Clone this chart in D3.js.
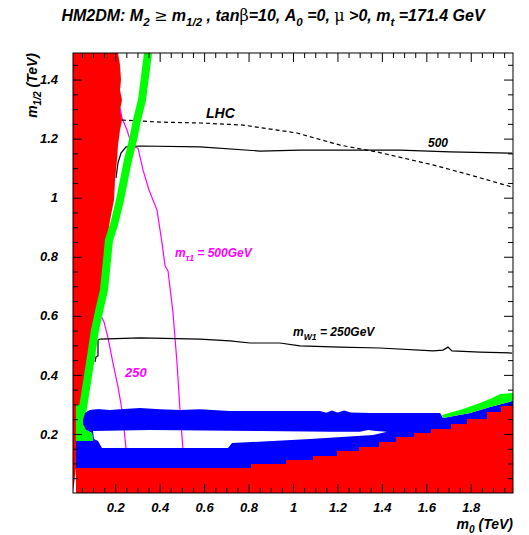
<!DOCTYPE html>
<html>
<head>
<meta charset="utf-8">
<script src="https://cdn.jsdelivr.net/npm/d3@7"></script>
<style>
body { margin: 0; background: #fff; }
text { font-family: "Liberation Sans", Arial, sans-serif; font-weight: bold; font-style: italic; }
</style>
</head>
<body>
<div id="chart"></div>
<script>
// axis ticks (TeV)
var xTicks = [0.2, 0.4, 0.6, 0.8, 1, 1.2, 1.4, 1.6, 1.8];
var yTicks = [0.2, 0.4, 0.6, 0.8, 1, 1.2, 1.4];

// excluded region (red): left edge [m0, m1/2] top -> bottom
var redEdge = [
	[0.2125, 1.49], [0.2215, 1.449], [0.226, 1.399], [0.2215, 1.365], [0.2305, 1.331],
	[0.2215, 1.297], [0.2305, 1.263], [0.2215, 1.229], [0.2125, 1.178], [0.208, 1.128],
	[0.199, 1.06], [0.1945, 0.992], [0.1765, 0.924], [0.163, 0.857], [0.1495, 0.789],
	[0.1405, 0.687], [0.1225, 0.61], [0.109, 0.535], [0.0955, 0.44], [0.064, 0.325],
	[0.0325, 0.247], [0.0235, 0.196], [0.0235, 0.085]
];
// red floor (stau LSP), steps [m0 start, m1/2 level]
var redFloor = [
	[0.0235, 0.085], [0.811, 0.098], [0.969, 0.112], [1.09, 0.125], [1.198, 0.142],
	[1.297, 0.156], [1.387, 0.173], [1.464, 0.19], [1.545, 0.203], [1.621, 0.217],
	[1.711, 0.234], [1.783, 0.251], [1.873, 0.274], [1.936, 0.295], [1.99, 0.295]
];

// WMAP allowed band (green)
var greenBand = [
	[0.3475, 1.49], [0.3205, 1.331], [0.298, 1.263], [0.28, 1.195], [0.2575, 1.128],
	[0.2395, 1.06], [0.2215, 0.992], [0.1945, 0.908], [0.172, 0.857], [0.163, 0.789],
	[0.1495, 0.687], [0.1315, 0.63], [0.109, 0.552], [0.0865, 0.44], [0.064, 0.332],
	[0.046, 0.247]
];
var greenBlob = [
	[0.0235, 0.298], [0.0595, 0.298], [0.055, 0.247], [0.0685, 0.213], [0.0955, 0.203],
	[0.1, 0.176], [0.0235, 0.176]
];
var greenStrip = [
	[1.671, 0.264], [1.761, 0.284], [1.842, 0.305], [1.896, 0.322], [1.932, 0.335],
	[1.99, 0.339], [1.99, 0.312], [1.887, 0.291], [1.797, 0.271], [1.675, 0.254]
];

// blue region: outline and the white gap inside it
var blueOuter = [
	[0.055, 0.247], [0.064, 0.271], [0.0865, 0.281], [0.1315, 0.284], [0.1765, 0.281],
	[0.2215, 0.284], [0.3115, 0.288], [0.4015, 0.284], [0.4915, 0.281], [0.5815, 0.284],
	[0.7165, 0.278], [1.1215, 0.278], [1.15, 0.272], [1.175, 0.279], [1.2, 0.273],
	[1.23, 0.279], [1.26, 0.273], [1.347, 0.271], [1.662, 0.271], [1.675, 0.254],
	[1.797, 0.271], [1.887, 0.291], [1.99, 0.312], [1.99, 0], [0.0235, 0],
	[0.0235, 0.176], [0.1, 0.176], [0.0955, 0.203], [0.0685, 0.213], [0.055, 0.234]
];
var blueGap = [
	[0.1, 0.21], [0.3565, 0.213], [0.8515, 0.21], [1.1665, 0.207], [1.3015, 0.207],
	[1.3375, 0.213], [1.3735, 0.21], [1.423, 0.207], [1.36, 0.196], [1.0765, 0.183],
	[0.7255, 0.169], [0.7075, 0.152], [0.1405, 0.152], [0.1225, 0.176], [0.1045, 0.183]
];

// contours
var lhcLine = [
	[0.2305, 1.263], [0.4015, 1.256], [0.5815, 1.253], [0.775, 1.246], [1.018, 1.219],
	[1.212, 1.178], [1.378, 1.155], [1.63, 1.111], [1.797, 1.077], [1.986, 1.036]
];
var line500 = [
	[0.2035, 1.067], [0.2125, 1.118], [0.226, 1.151], [0.2485, 1.172], [0.3115, 1.175],
	[0.5815, 1.172], [0.8515, 1.158], [1.0315, 1.161], [1.4815, 1.161], [1.7065, 1.155],
	[1.986, 1.151]
];
var lineW250 = [
	[0.109, 0.444], [0.1135, 0.461], [0.1225, 0.464], [0.1225, 0.518], [0.1315, 0.521],
	[0.3115, 0.525], [0.5815, 0.521], [0.7165, 0.515], [0.8065, 0.508], [0.9415, 0.508],
	[1.0315, 0.498], [1.2115, 0.494], [1.3915, 0.491], [1.63, 0.481], [1.675, 0.484],
	[1.6975, 0.494], [1.7155, 0.481], [1.8415, 0.477], [1.986, 0.474]
];
var stau500 = [
	[0.2215, 1.304], [0.2305, 1.27], [0.253, 1.229], [0.2755, 1.175], [0.3025, 1.168],
	[0.325, 1.094], [0.352, 1.026], [0.388, 0.958], [0.4105, 0.847], [0.424, 0.769],
	[0.4375, 0.752], [0.46, 0.61], [0.478, 0.44], [0.4915, 0.281], [0.505, 0.146],
	[0.5095, 0.085]
];
var stau250 = [
	[0.136, 0.599], [0.1495, 0.579], [0.1675, 0.525], [0.19, 0.44], [0.2125, 0.359],
	[0.2305, 0.281], [0.2485, 0.152], [0.253, 0.085]
];

var W = 529, H = 535;
var padL = 73, padR = 513, padT = 53, padB = 493;

var svg = d3.select('#chart')
	.append('svg')
	.attr('width', W)
	.attr('height', H);

var x = d3.scaleLinear().domain([0.01, 1.99]).range([padL, padR]);
var y = d3.scaleLinear().domain([0, 1.49]).range([padB, padT]);

svg.append('clipPath').attr('id', 'clip')
	.append('rect')
	.attr('x', padL).attr('y', padT)
	.attr('width', padR - padL).attr('height', padB - padT);

var plot = svg.append('g').attr('clip-path', 'url(#clip)');

var line = d3.line().x(function (d) { return x(d[0]); }).y(function (d) { return y(d[1]); });

// contours first, filled regions cover them
plot.append('path').attr('d', line(stau500)).attr('fill', 'none').attr('stroke', '#ff00ff').attr('stroke-width', 1.2);
plot.append('path').attr('d', line(stau250)).attr('fill', 'none').attr('stroke', '#ff00ff').attr('stroke-width', 1.2);
plot.append('path').attr('d', line(line500)).attr('fill', 'none').attr('stroke', '#000').attr('stroke-width', 1.2);
plot.append('path').attr('d', line(lineW250)).attr('fill', 'none').attr('stroke', '#000').attr('stroke-width', 1.2);
plot.append('path').attr('d', line(lhcLine)).attr('fill', 'none').attr('stroke', '#000')
	.attr('stroke-width', 1.2).attr('stroke-dasharray', '4,3');

plot.append('path')
	.attr('d', line(blueOuter) + 'Z' + line(blueGap) + 'Z')
	.attr('fill', '#0000ff')
	.attr('fill-rule', 'evenodd');

var xd = x.domain(), yd = y.domain();
plot.append('path')
	.attr('d', line(redEdge.concat([[xd[0], 0], [xd[0], yd[1]]])) + 'Z')
	.attr('fill', '#ff0000');
plot.append('path')
	.attr('d', d3.area()
		.x(function (d) { return x(d[0]); })
		.y0(y(0))
		.y1(function (d) { return y(d[1]); })
		.curve(d3.curveStepAfter)(redFloor))
	.attr('fill', '#ff0000');

plot.append('path').attr('d', line(greenBand)).attr('fill', 'none').attr('stroke', '#00ff00')
	.attr('stroke-width', 8).attr('stroke-linejoin', 'round');
plot.append('path').attr('d', line(greenBlob) + 'Z').attr('fill', '#00ff00');
plot.append('path').attr('d', line(greenStrip) + 'Z').attr('fill', '#00ff00');

// the blue tongue sits over the green blob
plot.append('path')
	.attr('d', line(blueOuter.slice(0, 4).concat([[0.1315, 0.213], [0.0685, 0.213], [0.055, 0.234]])) + 'Z')
	.attr('fill', '#0000ff');

// frame and ticks
var minorX = d3.range(1, 40).filter(function (i) { return i % 4; }).map(function (i) { return i / 20; });
var minorY = d3.range(1, 30).filter(function (i) { return i % 4; }).map(function (i) { return i / 20; });
var fmt = d3.format('~g');

function axisPair(axisFn, scale, major, minor, tr, labels, pad) {
	var g = svg.append('g').attr('transform', tr);
	g.call(axisFn(scale).tickValues(major).tickSize(-9).tickPadding(pad)
		.tickFormat(labels ? fmt : ''));
	g.append('g').call(axisFn(scale).tickValues(minor).tickSize(-5).tickFormat(''));
	g.selectAll('.domain').remove();
	g.attr('font-size', 13).attr('font-family', null);
	g.selectAll('text').attr('fill', '#000');
	return g;
}
axisPair(d3.axisBottom, x, xTicks, minorX, 'translate(0,' + padB + ')', true, 10);
axisPair(d3.axisTop, x, xTicks, minorX, 'translate(0,' + padT + ')', false, 3);
axisPair(d3.axisLeft, y, yTicks, minorY, 'translate(' + padL + ',0)', true, 15);
axisPair(d3.axisRight, y, yTicks, minorY, 'translate(' + padR + ',0)', false, 3);

svg.append('rect')
	.attr('x', padL).attr('y', padT)
	.attr('width', padR - padL).attr('height', padB - padT)
	.attr('fill', 'none').attr('stroke', '#000').attr('stroke-width', 1);

// rich text with subscripts and symbol glyphs
function rich(parent, segs, size, color) {
	var t = parent.append('text').attr('font-size', size).attr('fill', color || '#000');
	var shift = 0;
	segs.forEach(function (s) {
		var sp = t.append('tspan').text(s.t);
		var target = s.sub ? Math.round(size * 0.3) : 0;
		if (target !== shift) { sp.attr('dy', target - shift); shift = target; }
		if (s.sub) sp.attr('font-size', size * 0.72);
		if (s.sym) sp.attr('font-family', '"DejaVu Serif", serif').attr('font-style', 'normal').attr('font-weight', 'normal');
	});
	return t;
}

rich(svg, [
	{t: 'HM2DM: M'}, {t: '2', sub: 1}, {t: ' '}, {t: '\u2265', sym: 1}, {t: ' m'}, {t: '1/2', sub: 1},
	{t: ' , tan'}, {t: '\u03b2', sym: 1}, {t: '=10, A'}, {t: '0', sub: 1}, {t: ' =0, '},
	{t: '\u03bc', sym: 1}, {t: ' >0, m'}, {t: 't', sub: 1}, {t: ' =171.4 GeV'}
], 16).attr('x', 273).attr('y', 21).attr('text-anchor', 'middle');

rich(svg, [{t: 'm'}, {t: '0', sub: 1}, {t: ' (TeV)'}], 14)
	.attr('x', padR).attr('y', 529).attr('text-anchor', 'end');
rich(svg, [{t: 'm'}, {t: '1/2', sub: 1}, {t: ' (TeV)'}], 14)
	.attr('transform', 'translate(37,' + padT + ') rotate(-90)').attr('text-anchor', 'end');

rich(svg, [{t: 'LHC'}], 14).attr('x', 206).attr('y', 118);
rich(svg, [{t: '500'}], 12).attr('x', 428).attr('y', 147);
rich(svg, [{t: 'm'}, {t: 'W1', sub: 1}, {t: ' = 250GeV'}], 12).attr('x', 293).attr('y', 336);
rich(svg, [{t: 'm'}, {t: '\u03c41', sub: 1}, {t: ' = 500GeV'}], 12, '#ff00ff').attr('x', 175).attr('y', 257);
rich(svg, [{t: '250'}], 13, '#ff00ff').attr('x', 125).attr('y', 377);
</script>
</body>
</html>
